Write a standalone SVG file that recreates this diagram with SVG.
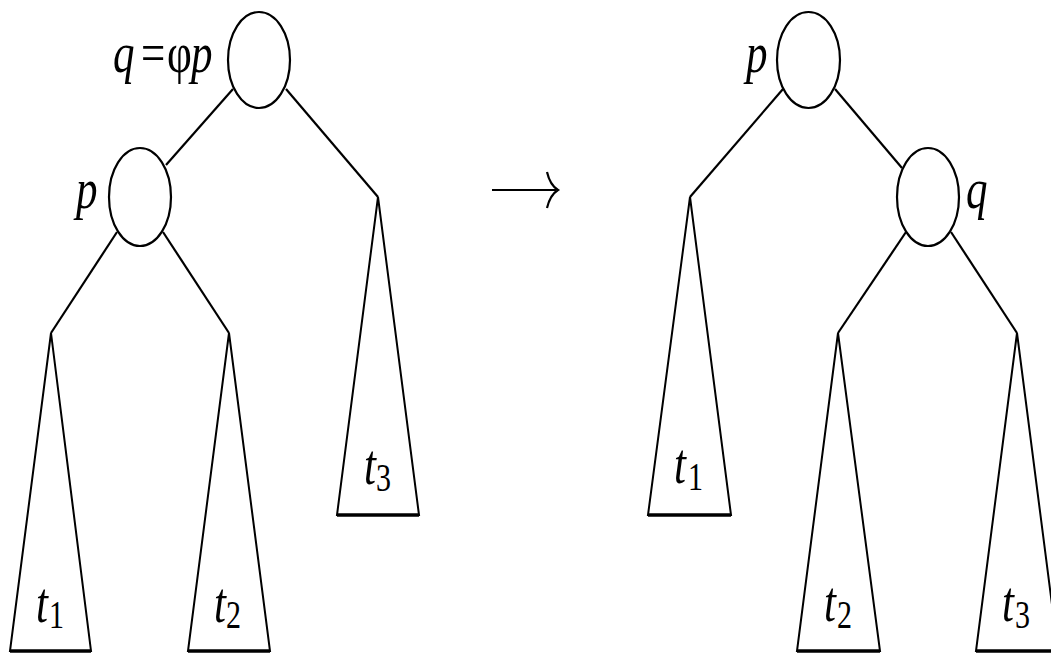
<svg xmlns="http://www.w3.org/2000/svg" width="1051" height="653" viewBox="0 0 1051 653">
<style>
.node{fill:#fff;stroke:#000;stroke-width:2.2}
.tri{fill:#fff;stroke:#000;stroke-width:2;stroke-linejoin:miter}
.base{stroke:#000;stroke-width:3.5}
.edge{stroke:#000;stroke-width:2.2;fill:none}
.lbl{font-family:'Liberation Serif','Times New Roman',serif;font-style:italic;font-size:43px;fill:#000}
.up{font-style:normal}
.sub{font-family:'Liberation Serif','Times New Roman',serif;font-size:30px;fill:#000}
</style>
<rect width="1051" height="653" fill="#fff"/>
<g id="connectors">
<line class="edge" x1="233" y1="89" x2="166" y2="165"/>
<line class="edge" x1="286" y1="89" x2="378" y2="197"/>
<line class="edge" x1="117" y1="232" x2="51" y2="333"/>
<line class="edge" x1="163" y1="232" x2="229" y2="333"/>
<line class="edge" x1="783" y1="89" x2="690" y2="197"/>
<line class="edge" x1="835" y1="89" x2="902" y2="168"/>
<line class="edge" x1="906" y1="232" x2="838" y2="333"/>
<line class="edge" x1="951" y1="232" x2="1017" y2="333"/>
</g>
<g id="arrow">
<line class="edge" x1="492" y1="190" x2="556" y2="190"/>
<path class="edge" stroke-width="1.8" d="M547,172 Q550,185 558,190 Q550,195 547,208"/>
</g>
<g id="left-root">
<ellipse class="node" cx="259" cy="60" rx="31" ry="48"/>
<text class="lbl" transform="translate(0,72) scale(1,1.35)"><tspan x="113" y="0">q</tspan><tspan class="up" x="141" y="0">=</tspan><tspan class="up" x="167" y="0">φ</tspan><tspan x="191" y="0">p</tspan></text>
</g>
<g id="left-p">
<ellipse class="node" cx="140" cy="197" rx="31" ry="49"/>
<text class="lbl" transform="translate(0,208) scale(1,1.35)" x="76" y="0">p</text>
</g>
<g id="left-t1">
<polygon class="tri" points="51,333 10,651 91,651"/>
<line class="base" x1="10" y1="651" x2="91" y2="651"/>
<text class="lbl" transform="translate(0,622) scale(1,1.35)" x="36" y="0">t</text>
<text class="sub" transform="translate(0,628) scale(1,1.35)" x="49" y="0">1</text>
</g>
<g id="left-t2">
<polygon class="tri" points="229,333 188,651 270,651"/>
<line class="base" x1="188" y1="651" x2="270" y2="651"/>
<text class="lbl" transform="translate(0,622) scale(1,1.35)" x="214" y="0">t</text>
<text class="sub" transform="translate(0,628) scale(1,1.35)" x="226" y="0">2</text>
</g>
<g id="left-t3">
<polygon class="tri" points="378,197 337,515 419,515"/>
<line class="base" x1="337" y1="515" x2="419" y2="515"/>
<text class="lbl" transform="translate(0,484) scale(1,1.35)" x="364" y="0">t</text>
<text class="sub" transform="translate(0,491) scale(1,1.35)" x="376" y="0">3</text>
</g>
<g id="right-p">
<ellipse class="node" cx="808.5" cy="60" rx="31.5" ry="48"/>
<text class="lbl" transform="translate(0,72) scale(1,1.35)" x="746" y="0">p</text>
</g>
<g id="right-q">
<ellipse class="node" cx="928" cy="197" rx="31" ry="49"/>
<text class="lbl" transform="translate(0,208) scale(1,1.35)" x="966" y="0">q</text>
</g>
<g id="right-t1">
<polygon class="tri" points="690,197 648,515 731,515"/>
<line class="base" x1="648" y1="515" x2="731" y2="515"/>
<text class="lbl" transform="translate(0,483) scale(1,1.35)" x="674" y="0">t</text>
<text class="sub" transform="translate(0,490) scale(1,1.35)" x="688" y="0">1</text>
</g>
<g id="right-t2">
<polygon class="tri" points="838,333 797,651 880,651"/>
<line class="base" x1="797" y1="651" x2="880" y2="651"/>
<text class="lbl" transform="translate(0,621) scale(1,1.35)" x="824" y="0">t</text>
<text class="sub" transform="translate(0,628) scale(1,1.35)" x="837" y="0">2</text>
</g>
<g id="right-t3">
<polygon class="tri" points="1017,333 976,651 1058,651"/>
<line class="base" x1="976" y1="651" x2="1058" y2="651"/>
<text class="lbl" transform="translate(0,621) scale(1,1.35)" x="1002" y="0">t</text>
<text class="sub" transform="translate(0,628) scale(1,1.35)" x="1015" y="0">3</text>
</g>
</svg>
